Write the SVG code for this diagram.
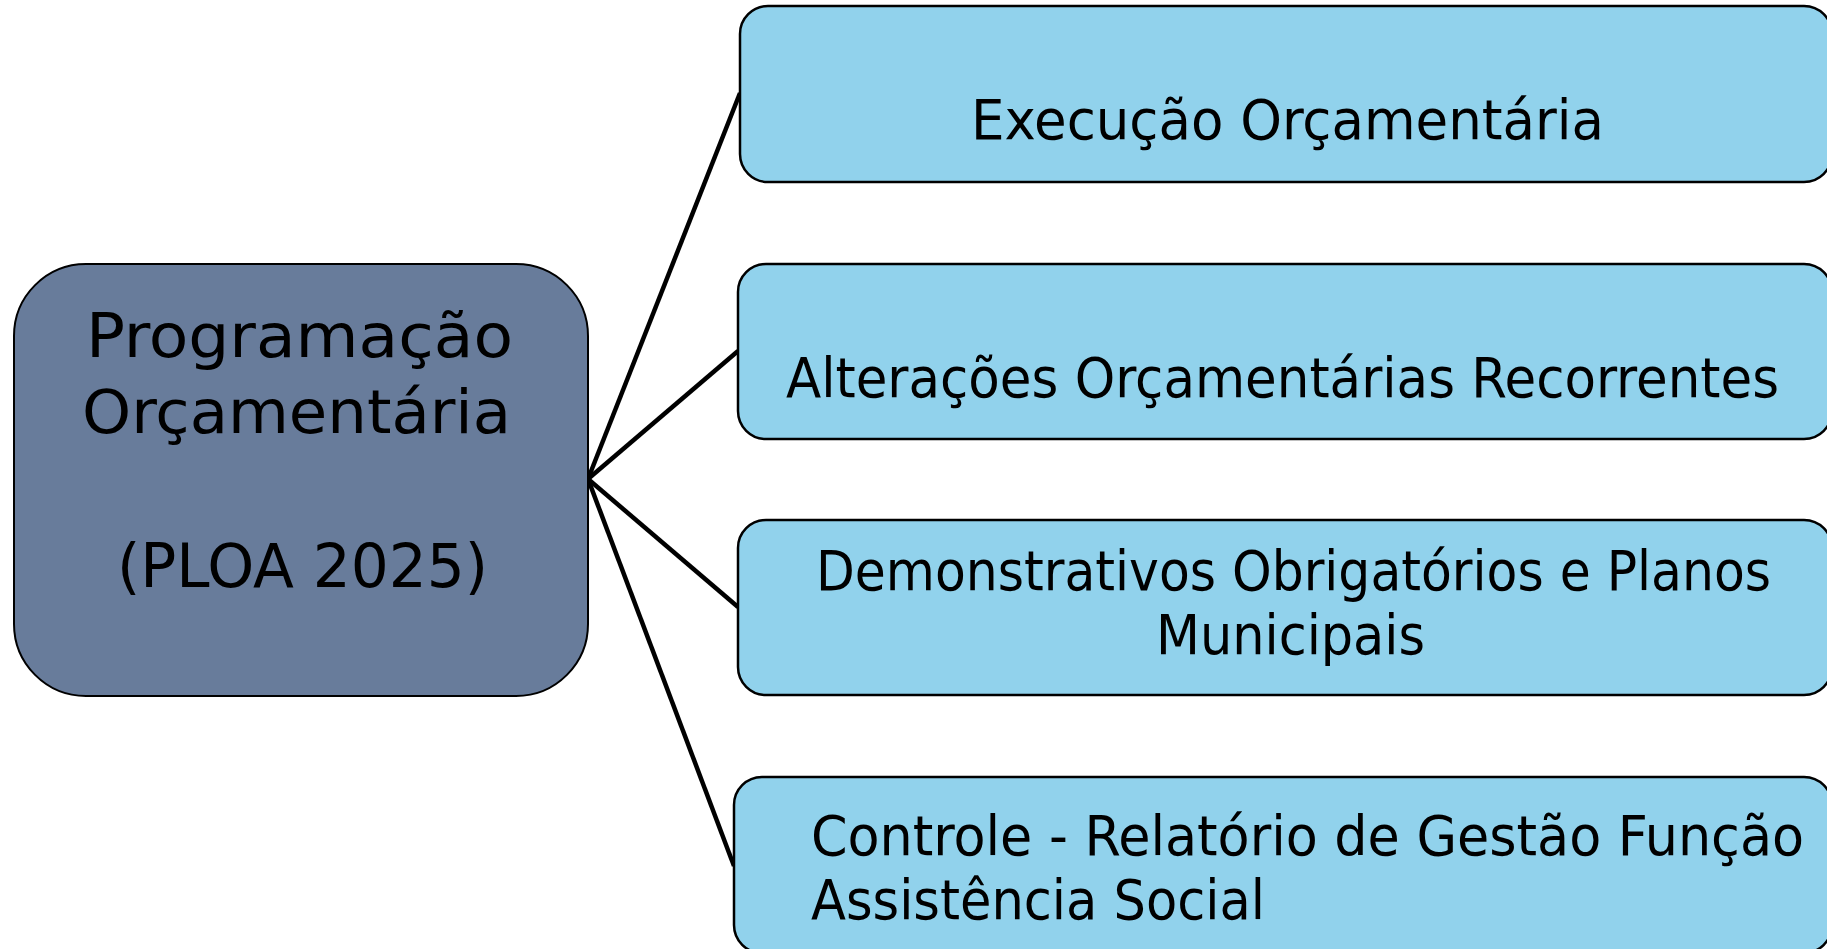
<svg xmlns="http://www.w3.org/2000/svg" width="1827" height="949" viewBox="0 0 1827 949">
<style>
.main{fill:#687c9b;stroke:#000;stroke-width:2}
.sub{fill:#91d2ec;stroke:#000;stroke-width:2.5}
.t{font-family:"DejaVu Sans Condensed","DejaVu Sans",sans-serif;fill:#000}
.tm{font-size:60px}
.ts{font-size:55px}
.conn line{stroke:#000;stroke-width:4.5;stroke-linecap:butt}
</style>
<rect width="1827" height="949" fill="#fff"/>
<g id="connectors" class="conn">
<line x1="588" y1="479" x2="740" y2="93"/>
<line x1="588" y1="479" x2="738" y2="351"/>
<line x1="588" y1="479" x2="738" y2="607"/>
<line x1="588" y1="479" x2="734" y2="866"/>
</g>
<g id="node-main">
<rect class="main" x="14" y="264" width="574" height="432" rx="72" ry="72"/>
<text class="t tm" x="86" y="357" textLength="427" lengthAdjust="spacingAndGlyphs">Programação</text>
<text class="t tm" x="82" y="433" textLength="429" lengthAdjust="spacingAndGlyphs">Orçamentária</text>
<text class="t tm" x="117" y="587" textLength="371" lengthAdjust="spacingAndGlyphs">(PLOA 2025)</text>
</g>
<g id="node-execucao">
<rect class="sub" x="740" y="6" width="1092" height="176" rx="28" ry="28"/>
<text class="t ts" x="971" y="139" textLength="633" lengthAdjust="spacingAndGlyphs">Execução Orçamentária</text>
</g>
<g id="node-alteracoes">
<rect class="sub" x="738" y="264" width="1094" height="175" rx="28" ry="28"/>
<text class="t ts" x="786" y="397" textLength="993" lengthAdjust="spacingAndGlyphs">Alterações Orçamentárias Recorrentes</text>
</g>
<g id="node-demonstrativos">
<rect class="sub" x="738" y="520" width="1094" height="175" rx="28" ry="28"/>
<text class="t ts" x="816" y="590" textLength="955" lengthAdjust="spacingAndGlyphs">Demonstrativos Obrigatórios e Planos</text>
<text class="t ts" x="1156" y="654" textLength="269" lengthAdjust="spacingAndGlyphs">Municipais</text>
</g>
<g id="node-controle">
<rect class="sub" x="734" y="777" width="1098" height="176" rx="28" ry="28"/>
<text class="t ts" x="811" y="855" textLength="993" lengthAdjust="spacingAndGlyphs">Controle - Relatório de Gestão Função</text>
<text class="t ts" x="811" y="919" textLength="454" lengthAdjust="spacingAndGlyphs">Assistência Social</text>
</g>
</svg>
